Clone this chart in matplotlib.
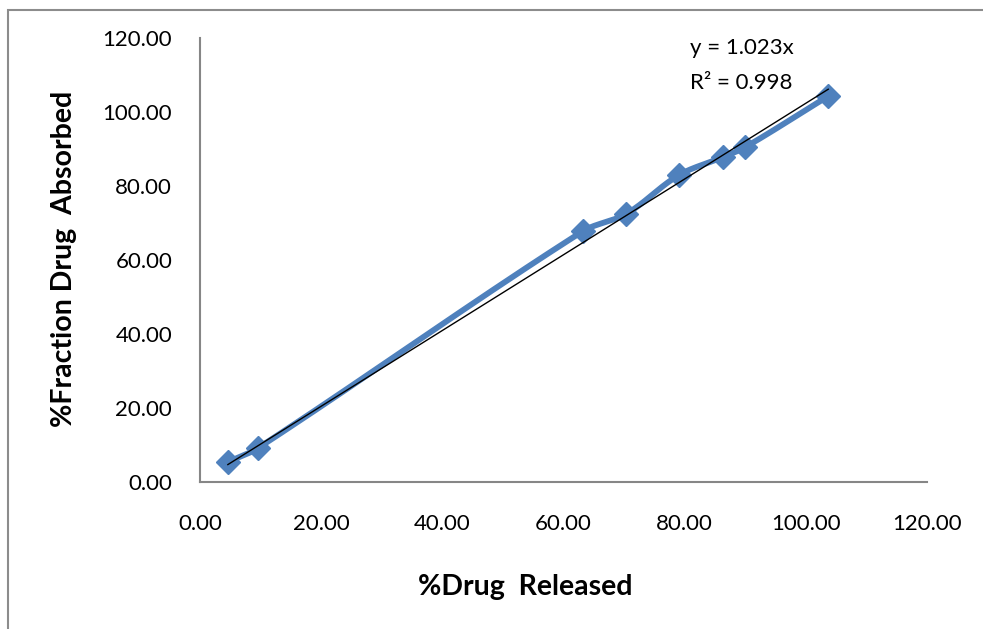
import matplotlib.pyplot as plt
import numpy as np
from matplotlib.patches import Rectangle

# Datos
drug_released = [4.6, 9.6, 63.2, 70.3, 79.1, 86.3, 90.0, 103.7]
fraction_absorbed = [5.4, 9.2, 67.8, 72.4, 83.0, 87.8, 90.5, 104.3]
tick_values = [0, 20, 40, 60, 80, 100, 120]
ecuacion = 'y = 1.023x'
r2_texto = 'R² = 0.998'

plt.rcParams['font.family'] = ['Lato', 'DejaVu Sans']

# Línea suavizada tipo Excel (Bezier con tangentes escaladas por segmento)
def suavizar(x, y, n=30):
    p = np.column_stack([x, y]).astype(float)
    tang = []
    for i in range(len(p)):
        d = p[min(i + 1, len(p) - 1)] - p[max(i - 1, 0)]
        tang.append(d / np.linalg.norm(d))
    t = np.linspace(0, 1, n)[:, None]
    partes = []
    for i in range(len(p) - 1):
        L = np.linalg.norm(p[i + 1] - p[i])
        c0, c3 = p[i], p[i + 1]
        c1 = c0 + tang[i] * L / 3
        c2 = c3 - tang[i + 1] * L / 3
        partes.append((1 - t) ** 3 * c0 + 3 * (1 - t) ** 2 * t * c1
                      + 3 * (1 - t) * t ** 2 * c2 + t ** 3 * c3)
    curva = np.vstack(partes)
    return curva[:, 0], curva[:, 1]

fig = plt.figure(figsize=(9.83, 6.29), dpi=100)
ax = fig.add_axes([200 / 983, 1 - 482 / 629, 727 / 983, 444 / 629])

# Borde del área del gráfico
fig.patches.append(Rectangle((8 / 983, -0.1), 1.2, 1 - 10 / 629 + 0.1,
                             transform=fig.transFigure, fill=False,
                             edgecolor='#8c8c8c', linewidth=1.5))

azul = '#4F81BD'
xs, ys = suavizar(drug_released, fraction_absorbed)
ax.plot(xs, ys, color=azul, linewidth=4.2, solid_capstyle='round', zorder=2)
ax.plot(drug_released, fraction_absorbed, linestyle='none', marker='D',
        markersize=12, color=azul, zorder=3)

# Línea de tendencia por el origen
x = np.array(drug_released)
y = np.array(fraction_absorbed)
pendiente = np.sum(x * y) / np.sum(x * x)
xt = np.array([x.min(), x.max()])
ax.plot(xt, pendiente * xt, color='black', linewidth=1.0, zorder=4)

fig.text(690 / 983, 1 - 48 / 629, ecuacion, fontsize=16, va='center', ha='left')
fig.text(690 / 983, 1 - 83 / 629, r2_texto, fontsize=16, va='center', ha='left')

ax.set_xlim(0, 120)
ax.set_ylim(0, 120)
ax.set_xticks(tick_values)
ax.set_yticks(tick_values)
ax.set_xticklabels([f'{v:.2f}' for v in tick_values])
ax.set_yticklabels([f'{v:.2f}' for v in tick_values])
ax.tick_params(axis='both', length=0, labelsize=16)
ax.tick_params(axis='x', pad=23)
ax.tick_params(axis='y', pad=20)

for lado in ['top', 'right']:
    ax.spines[lado].set_visible(False)
for lado in ['left', 'bottom']:
    ax.spines[lado].set_color('#868686')
    ax.spines[lado].set_linewidth(1.5)

fig.text(525 / 983, 1 - 587 / 629, '%Drug  Released', fontsize=20.5,
         fontweight='bold', ha='center', va='center')
fig.text(64 / 983, 1 - 259 / 629, '%Fraction Drug  Absorbed', fontsize=20.5,
         fontweight='bold', ha='center', va='center', rotation=90)

fig.savefig('out.png', dpi=100)
